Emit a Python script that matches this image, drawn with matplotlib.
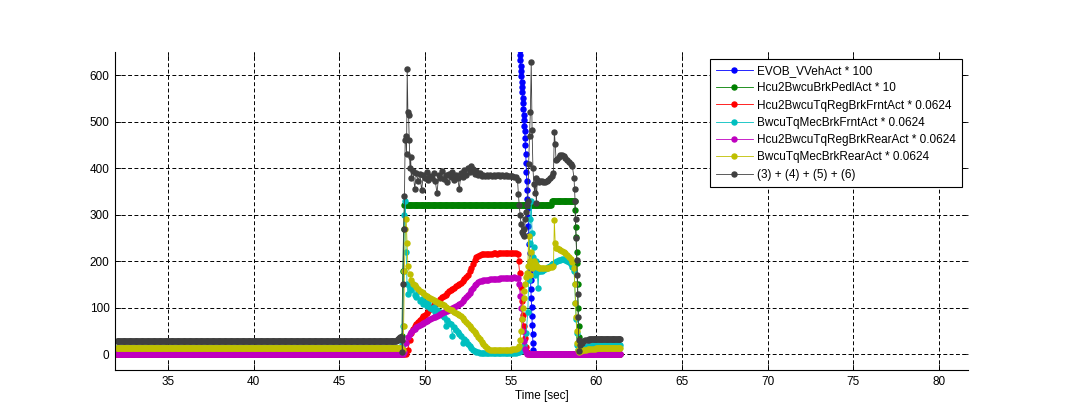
import numpy as np
import matplotlib
matplotlib.use("Agg")
import matplotlib.pyplot as plt

# each series: list of (t_start, t_step, values) sample blocks
blue_segments = [
    (55.46, 0.02, [690, 678, 667, 655, 643, 632, 620, 609, 598, 586,
                   574, 563, 551, 540, 528, 515, 503, 491, 479, 466,
                   450, 431, 412, 392, 373, 354, 334, 315, 296, 276,
                   257, 237, 218, 198, 179, 160, 140, 121, 101, 82,
                   62, 43, 24, 8, 0]),
    (56.4, 0.5, [0] * 11),
]

green_segments = [
    (32.0, 0.05, [0] * 332),
    (48.6, 0.05, [0, 40, 180, 270, 320]),
    (48.9, 0.05, [320] * 170),
    (57.4, 0.05, [329] * 28),
    (58.76, 0.03, [310, 274, 253, 220, 196, 150, 100, 60, 38]),
    (59.05, 0.1, [0] * 24),
]

red_segments = [
    (32.0, 0.05, [0] * 332),
    (48.6, 0.1, [0, 0, 0, 0, 10]),
    (49.1, 0.1, [30, 45, 55, 61, 66, 70, 74, 78, 82, 85,
                 89, 93, 97, 101, 105, 108, 112, 115, 119, 122,
                 125, 128, 131, 135, 138, 140, 143, 146, 148, 151,
                 154, 157, 161, 166, 171, 178, 186, 194, 202, 208,
                 212, 214, 215, 215, 215, 216, 216, 216, 216, 217,
                 217, 216, 217, 217, 217, 217, 218, 217, 218, 218,
                 218, 217, 218, 216]),
    (55.46, 0.06, [200, 175, 145, 115, 85, 60, 35, 15, 5, 0]),
    (56.1, 0.1, [0] * 54),
]

cyan_segments = [
    (32.0, 0.05, [14] * 332),
    (48.6, 0.05, [16, 20, 60, 180, 300, 330, 220, 150, 130]),
    (49.1, 0.1, [145, 138, 150, 128, 122, 135, 115, 118, 108, 112,
                 104, 110, 100, 98, 102, 90, 94, 86, 90, 84,
                 80, 60, 74, 68, 66, 40, 58, 52, 48, 44,
                 40, 24, 32, 28, 22, 18, 14, 10, 7, 5,
                 4, 3, 3, 3, 2, 2, 2, 2, 2, 2,
                 2, 2, 2, 2, 2, 2, 2, 2, 2, 2,
                 2, 2, 3, 4]),
    (55.5, 0.1, [4, 6, 10, 20, 45]),
    (56.0, 0.05, [90, 160, 240, 290, 330, 260, 210, 230, 170, 200,
                  175, 180, 142, 178, 180]),
    (56.8, 0.1, [180, 182, 184, 186, 188, 190, 193, 195, 198, 200,
                 202, 203, 204, 204, 203, 201, 198, 194, 188]),
    (58.7, 0.04, [180, 150, 110, 75, 45, 20, 10]),
    (59.0, 0.1, [10, 12, 14, 15, 16, 17, 18, 18, 19, 19, 19, 19]),
    (60.2, 0.05, [20] * 25),
]

magenta_segments = [
    (32.0, 0.05, [0] * 332),
    (48.6, 0.1, [0, 0, 5, 25, 38]),
    (49.1, 0.1, [44, 48, 52, 55, 58, 61, 63, 66, 68, 70,
                 72, 74, 76, 78, 80, 81, 83, 85, 86, 88,
                 90, 92, 93, 95, 97, 99, 101, 103, 105, 108,
                 111, 114, 118, 122, 127, 132, 138, 143, 148, 152,
                 155, 157, 158, 159, 159, 160, 160, 161, 161, 161,
                 162, 162, 162, 163, 163, 163, 163, 164, 164, 164,
                 164, 165, 164, 163]),
    (55.5, 0.06, [150, 125, 100, 75, 50, 28, 12, 4, 0]),
    (56.1, 0.05, [0] * 107),
]

yellow_segments = [
    (32.0, 0.05, [14] * 332),
    (48.6, 0.05, [14, 12, 10, 60, 180, 270, 290, 240, 190]),
    (49.1, 0.1, [172, 160, 152, 148, 145, 140, 137, 134, 131, 128,
                 126, 124, 121, 119, 117, 115, 113, 111, 109, 107,
                 105, 102, 100, 98, 96, 94, 91, 89, 87, 85,
                 82, 78, 73, 69, 64, 60, 56, 52, 48, 44,
                 38, 32, 26, 22, 17, 13, 11, 10, 9, 9,
                 9, 9, 9, 9, 9, 9, 9, 10, 10, 10,
                 11, 11, 12, 14]),
    (55.5, 0.05, [18, 30, 50, 75, 100, 120, 135, 150, 165, 175,
                  190, 255, 200, 170, 220, 185, 195, 200, 196, 192,
                  190, 188, 187, 186, 185]),
    (56.8, 0.1, [185, 185, 185, 186, 186, 187, 188, 190]),
    (57.55, 0.05, [288, 240, 228]),
    (57.7, 0.1, [228, 227, 225, 223, 220, 217, 213, 209, 204, 198]),
    (58.7, 0.04, [185, 150, 110, 81, 50, 25, 8]),
    (59.0, 0.1, [4, 6, 8, 9, 10, 11, 11, 12, 12, 12]),
    (60.0, 0.05, [13] * 29),
]

black_segments = [
    (32.0, 0.05, [28] * 326 + [29, 30, 31, 33, 34, 36]),
    (48.6, 0.04, [36, 30, 5, 150, 270, 340, 460, 470, 430, 613,
                  520, 515, 460, 400, 424, 380]),
    (49.3, 0.1, [395, 356, 390, 372, 388, 353, 385, 378,
                 392, 375, 384, 380, 390, 372, 346, 386, 379, 393,
                 376, 385, 370, 388, 381, 392, 374, 386, 380, 355,
                 390, 382, 396, 385, 400, 392, 405, 398, 388, 394,
                 386, 390, 384, 386, 383, 385, 384, 386, 384, 385,
                 384, 385, 386, 384, 385, 384, 385, 384, 383, 384,
                 383, 382, 381]),
    (55.4, 0.05, [375, 345, 320, 300, 280, 262, 258, 270, 255, 290,
                  305, 320, 330, 410, 470, 520, 628, 482, 400, 367,
                  346, 380, 325, 375, 372, 370, 372]),
    (56.8, 0.1, [372, 371, 371, 372, 374, 378, 383, 389]),
    (57.55, 0.05, [478, 453, 417]),
    (57.7, 0.1, [420, 425, 428, 428, 426, 422, 418, 414, 410, 405]),
    (58.7, 0.03, [378, 356, 330, 290, 250, 202, 170, 130, 80, 31, 6]),
    (59.05, 0.1, [20, 25, 28, 30, 31, 31]),
    (59.6, 0.05, [32] * 37),
]

labels = [
    "EVOB_VVehAct * 100",
    "Hcu2BwcuBrkPedlAct * 10",
    "Hcu2BwcuTqRegBrkFrntAct * 0.0624",
    "BwcuTqMecBrkFrntAct * 0.0624",
    "Hcu2BwcuTqRegBrkRearAct * 0.0624",
    "BwcuTqMecBrkRearAct * 0.0624",
    "(3) + (4) + (5) + (6)",
]
colors = ["#0000ff", "#008000", "#ff0000", "#00bfbf", "#bf00bf", "#bfbf00", "#404040"]
x_ticks = [35, 40, 45, 50, 55, 60, 65, 70, 75, 80]
y_ticks = [0, 100, 200, 300, 400, 500, 600]


def build(segments):
    t, v = [], []
    for t0, dt, vals in segments:
        t.extend(t0 + dt * np.arange(len(vals)))
        v.extend(vals)
    return np.array(t), np.array(v, dtype=float)


plt.rcParams["font.family"] = ["Liberation Sans", "DejaVu Sans"]
plt.rcParams["font.size"] = 8.5

fig = plt.figure(figsize=(10.82, 4.16), dpi=100)
ax = fig.add_axes([115 / 1082, 46 / 416, 853 / 1082, 318 / 416])

all_segments = [blue_segments, green_segments, red_segments, cyan_segments,
                magenta_segments, yellow_segments, black_segments]
for segs, lab, col in zip(all_segments, labels, colors):
    t, v = build(segs)
    ax.plot(t, v, "-", color=col, lw=0.6, marker="o", ms=3.6,
            mec=col, mfc=col, label=lab)

ax.set_xlim(31.9, 81.7)
ax.set_ylim(-34, 650)
ax.set_xticks(x_ticks)
ax.set_yticks(y_ticks)
ax.grid(True, color="black", lw=0.7, linestyle=(0, (4, 2.5)))
ax.tick_params(direction="in", length=4.5, width=0.6, top=True, right=True,
               labelsize=8.5, pad=4)
for side in ["top", "right"]:
    ax.spines[side].set_visible(False)
for side in ["left", "bottom"]:
    ax.spines[side].set_linewidth(0.8)
ax.set_xlabel("Time [sec]", fontsize=8.5, labelpad=2)

leg = ax.legend(loc="upper right", bbox_to_anchor=(962 / 1082, 1 - 59 / 416),
                bbox_transform=fig.transFigure, borderaxespad=0, numpoints=1,
                handlelength=3.1, handletextpad=0.4, labelspacing=0.45,
                borderpad=0.5, fancybox=False, framealpha=1, fontsize=8.5)
leg.get_frame().set_edgecolor("black")
leg.get_frame().set_linewidth(0.8)

fig.savefig("out.png", dpi=100)
